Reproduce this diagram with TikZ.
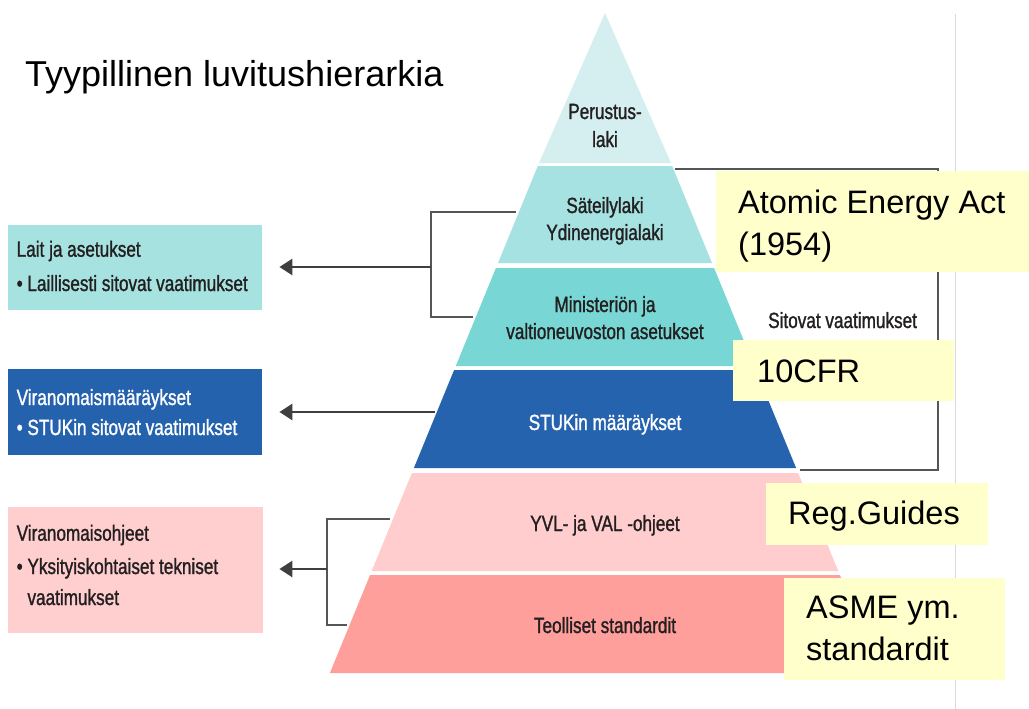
\documentclass[tikz,border=0pt]{standalone}
\usepackage{fontspec}
\setmainfont{Liberation Sans}
\newfontfamily\condf[FakeStretch=0.78,FakeBold=1.2]{Liberation Sans}
\usetikzlibrary{arrows.meta,calc}
\definecolor{layA}{HTML}{D5EFF0}
\definecolor{layB}{HTML}{A6E2E1}
\definecolor{layC}{HTML}{78D7D4}
\definecolor{layD}{HTML}{2563AE}
\definecolor{layE}{HTML}{FFCDCD}
\definecolor{layF}{HTML}{FE9F9B}
\definecolor{boxA}{HTML}{A6E3E0}
\definecolor{boxB}{HTML}{2462AE}
\definecolor{boxC}{HTML}{FFCFCF}
\definecolor{yel}{HTML}{FFFFCC}
\definecolor{txtdark}{HTML}{231F20}
\definecolor{linegray}{HTML}{555555}
\definecolor{arrgray}{HTML}{3F3F3F}
\definecolor{vgray}{HTML}{D9D9D9}
\begin{document}
\begin{tikzpicture}[x=1pt,y=-1pt,
  ptext/.style={font=\condf\fontsize{22}{27}\selectfont, text=txtdark, inner sep=0pt, anchor=base},
  ltext/.style={font=\condf\fontsize{22}{27}\selectfont, text=txtdark, inner sep=0pt, anchor=base west},
  ytext/.style={font=\fontsize{32.5}{40}\selectfont, text=black, inner sep=0pt, anchor=base west},
  plainbox/.style={draw=none, inner sep=0pt, anchor=north west},
  brk/.style={draw=linegray, line width=2.3pt},
  arr/.style={draw=arrgray, line width=2.6pt, -{Triangle[length=13pt,width=16pt]}}]
\useasboundingbox (0,0) rectangle (1029,709);
\fill[white] (0,0) rectangle (1029,709);
% right gray rule
\coordinate (gl1) at (955,14);
\coordinate (gl2) at (955,709);
\draw[vgray, line width=1pt] (gl1) -- (gl2);
% pyramid layers
\fill[layA] (605,13) -- (671,163) -- (539,163) -- cycle;
\fill[layB] (537.8,166) -- (672.2,166) -- (712,263) -- (498,263) -- cycle;
\fill[layC] (495.9,268) -- (714.1,268) -- (754.2,366) -- (455.8,366) -- cycle;
\fill[layD] (454.1,370) -- (755.9,370) -- (796.1,468) -- (413.9,468) -- cycle;
\fill[layE] (411.9,473) -- (798.1,473) -- (838.3,571) -- (371.7,571) -- cycle;
\fill[layF] (370.1,575) -- (839.9,575) -- (880.1,673) -- (329.9,673) -- cycle;
% left boxes
\node[plainbox, fill=boxA, minimum width=254pt, minimum height=85pt] (lait) at (8,225) {};
\node[plainbox, fill=boxB, minimum width=254pt, minimum height=86pt] (vir) at (8,369) {};
\node[plainbox, fill=boxC, minimum width=255pt, minimum height=126pt] (ohj) at (8,507) {};
% brackets and arrows
\coordinate (b1a) at (516,212);
\coordinate (b1b) at (431,212);
\coordinate (b1c) at (431,317);
\coordinate (b1d) at (473,317);
\coordinate (b1m) at (431,267);
\draw[brk] (b1a) -- (b1b) -- (b1c) -- (b1d);
\draw[arr, shorten >=17pt] (b1m) -- (b1m -| lait.east);
\coordinate (a2) at (435,412);
\draw[arr, shorten >=17pt] (a2) -- (a2 -| vir.east);
\coordinate (b3a) at (390,519);
\coordinate (b3b) at (327,519);
\coordinate (b3c) at (327,625);
\coordinate (b3d) at (347,625);
\coordinate (b3m) at (327,569);
\draw[brk] (b3a) -- (b3b) -- (b3c) -- (b3d);
\draw[arr, shorten >=16pt] (b3m) -- (b3m -| ohj.east);
% right bracket
\coordinate (rb1) at (675,169);
\coordinate (rb2) at (938,169);
\coordinate (rb3) at (938,470);
\coordinate (rb4) at (800,470);
\draw[brk] (rb1) -- (rb2) -- (rb3) -- (rb4);
% yellow boxes
\node[plainbox, fill=yel, minimum width=313pt, minimum height=101pt] (aea) at (716,171) {};
\node[plainbox, fill=yel, minimum width=221pt, minimum height=61pt] (cfr) at (733,340) {};
\node[plainbox, fill=yel, minimum width=222pt, minimum height=62pt] (reg) at (766,483) {};
\node[plainbox, fill=yel, minimum width=221pt, minimum height=102pt] (asme) at (784,578) {};
% title
\node[anchor=base west, inner sep=0pt, font=\fontsize{36}{40}\selectfont] (title) at (25,86.7) {Tyypillinen luvitushierarkia};
% pyramid texts
\node[ptext] (p1a) at (605,119) {Perustus-};
\node[ptext] (p1b) at (605,147) {laki};
\node[ptext] (p2a) at (605,213) {Säteilylaki};
\node[ptext] (p2b) at (605,240) {Ydinenergialaki};
\node[ptext] (p3a) at (605,312) {Ministeriön ja};
\node[ptext] (p3b) at (605,339) {valtioneuvoston asetukset};
\node[ptext, text=white] (p4) at (605,430) {STUKin määräykset};
\node[ptext] (p5) at (605,531) {YVL- ja VAL -ohjeet};
\node[ptext] (p6) at (605,633) {Teolliset standardit};
% left box texts
\node[ltext] (l1a) at (16.5,256.7) {Lait ja asetukset};
\node[ltext] (l1b) at (16.5,291) {\textbullet\ Laillisesti sitovat vaatimukset};
\node[ltext, text=white] (l2a) at (16.5,405) {Viranomaismääräykset};
\node[ltext, text=white] (l2b) at (16.5,435) {\textbullet\ STUKin sitovat vaatimukset};
\node[ltext] (l3a) at (16.5,540.7) {Viranomaisohjeet};
\node[ltext] (l3b) at (16.5,574) {\textbullet\ Yksityiskohtaiset tekniset};
\node[ltext] (l3c) at (16.5,605) {\phantom{\textbullet\ }vaatimukset};
% side label
\node[ltext] (sit) at (768,328) {Sitovat vaatimukset};
% yellow texts
\node[ytext] (aeaA) at (738,213.3) {Atomic Energy Act};
\node[ytext] (aeaB) at (738,255) {(1954)};
\node[ytext] (cfrT) at (757,382.7) {10CFR};
\node[ytext] (regT) at (788,524.5) {Reg.Guides};
\node[ytext] (asmeA) at (806,618) {ASME ym.};
\node[ytext] (asmeB) at (806,660) {standardit};
\end{tikzpicture}
\end{document}
